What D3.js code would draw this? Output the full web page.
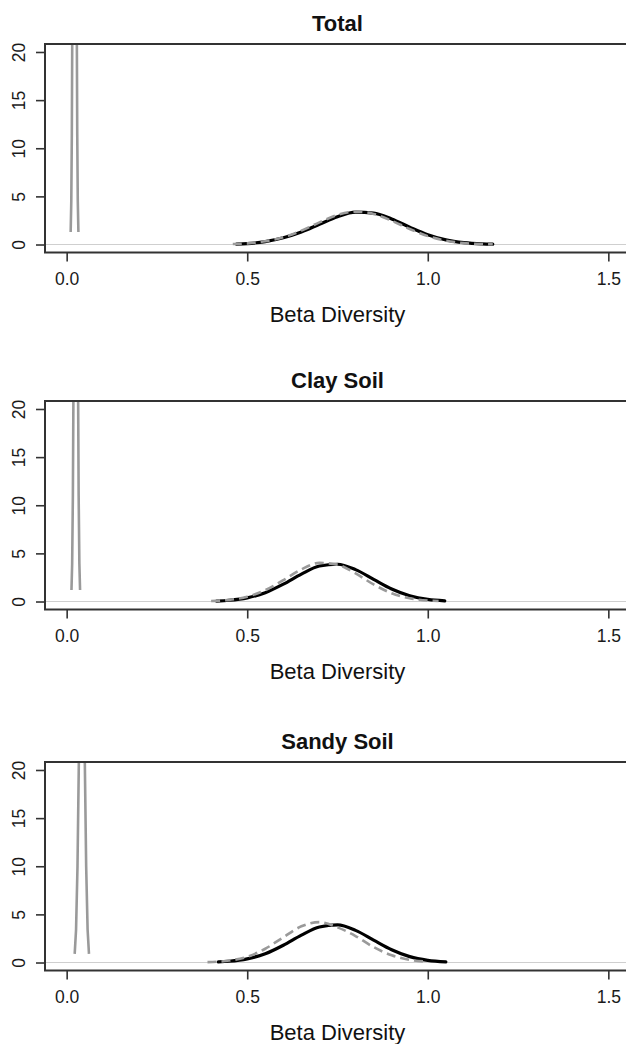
<!DOCTYPE html>
<html>
<head>
<meta charset="utf-8">
<script src="https://cdn.jsdelivr.net/npm/d3@7"></script>
<style>
  html, body { margin: 0; padding: 0; background: #fff; }
  svg { display: block; }
</style>
</head>
<body>
<div id="chart"></div>
<script>
// ---------------- DATA ----------------
const panelTitles = ["Total", "Clay Soil", "Sandy Soil"];
const xTicks = [0, 0.5, 1.0, 1.5];
const xTickLabels = ["0.0", "0.5", "1.0", "1.5"];
const yTicks = [0, 5, 10, 15, 20];
const yTickLabels = ["0", "5", "10", "15", "20"];
const xAxisTitle = "Beta Diversity";

// Narrow grey (null) densities near zero — peaks run off the top of the plot
const totalSpike = [[0.0111,1.3],[0.0128,4.5],[0.0143,11.4],[0.0158,24.6],[0.0188,68.6],[0.0218,96.6],[0.0248,68.6],[0.0278,24.6],[0.0293,11.4],[0.0308,4.5],[0.0325,1.3]];
const claySpike  = [[0.0133,1.2],[0.0152,3.9],[0.0172,11.0],[0.0192,24.9],[0.0222,54.5],[0.0252,70.8],[0.0282,54.5],[0.0312,24.9],[0.0332,11.0],[0.0352,3.9],[0.0371,1.2]];
const sandySpike = [[0.0222,0.9],[0.026,3.4],[0.030,10.0],[0.034,21.6],[0.038,34.3],[0.042,40.0],[0.046,34.3],[0.050,21.6],[0.054,10.0],[0.058,3.4],[0.0618,0.9]];

// Observed densities (black solid)
const totalObserved = [[0.47,0.05],[0.50,0.10],[0.55,0.30],[0.60,0.70],[0.65,1.30],[0.70,2.10],[0.75,2.89],[0.80,3.36],[0.85,3.26],[0.90,2.65],[0.95,1.80],[1.00,1.02],[1.05,0.48],[1.10,0.19],[1.15,0.06],[1.18,0.03]];
const clayObserved = [[0.415,0.05],[0.45,0.13],[0.50,0.38],[0.55,0.92],[0.60,1.80],[0.65,2.85],[0.70,3.69],[0.75,3.87],[0.80,3.31],[0.85,2.30],[0.90,1.30],[0.95,0.60],[1.00,0.22],[1.047,0.07]];
const sandyObserved = [[0.42,0.06],[0.45,0.13],[0.50,0.38],[0.55,0.91],[0.60,1.79],[0.65,2.85],[0.70,3.69],[0.75,3.90],[0.80,3.34],[0.85,2.33],[0.90,1.33],[0.95,0.61],[1.00,0.23],[1.05,0.07]];

// Expected / model densities (grey dashed)
const totalModel = [[0.46,0.05],[0.50,0.12],[0.55,0.33],[0.60,0.76],[0.65,1.44],[0.70,2.30],[0.75,3.07],[0.80,3.42],[0.85,3.18],[0.90,2.47],[0.95,1.61],[1.00,0.87],[1.05,0.40],[1.10,0.15],[1.15,0.05],[1.18,0.02]];
const clayModel = [[0.40,0.05],[0.45,0.17],[0.50,0.50],[0.55,1.18],[0.60,2.22],[0.65,3.34],[0.70,4.01],[0.75,3.83],[0.80,2.92],[0.85,1.77],[0.90,0.86],[0.95,0.33],[1.00,0.10],[1.03,0.05]];
const sandyModel = [[0.39,0.04],[0.45,0.20],[0.50,0.60],[0.55,1.43],[0.60,2.62],[0.65,3.76],[0.70,4.20],[0.75,3.65],[0.80,2.75],[0.85,1.60],[0.90,0.75],[0.95,0.28],[1.00,0.08]];

const spikes = [totalSpike, claySpike, sandySpike];
const observed = [totalObserved, clayObserved, sandyObserved];
const models = [totalModel, clayModel, sandyModel];

// ---------------- LAYOUT ----------------
const W = 626, H = 1044;
const panelTops = [44, 401, 762];
const boxLeft = 45, boxRight = 630, boxH = 208.5;
const xDomain = [-0.06, 1.56];
const yDomain = [-0.83, 20.83];
const FONT = "'Liberation Sans', Arial, Helvetica, sans-serif";

const svg = d3.select("#chart").append("svg")
  .attr("width", W).attr("height", H)
  .attr("viewBox", `0 0 ${W} ${H}`);
svg.append("rect").attr("width", W).attr("height", H).attr("fill", "#fff");

const x = d3.scaleLinear().domain(xDomain).range([boxLeft, boxRight]);

panelTitles.forEach((title, i) => {
  const top = panelTops[i];
  const bottom = top + boxH;
  const y = d3.scaleLinear().domain(yDomain).range([bottom, top]);
  const g = svg.append("g");

  const clipId = "clip" + i;
  svg.append("clipPath").attr("id", clipId)
    .append("rect").attr("x", boxLeft).attr("y", top)
    .attr("width", boxRight - boxLeft).attr("height", boxH);

  // zero reference line
  g.append("line")
    .attr("x1", boxLeft).attr("x2", boxRight)
    .attr("y1", y(0)).attr("y2", y(0))
    .attr("stroke", "#cfcfcf").attr("stroke-width", 1.2);

  const line = d3.line().x(d => x(d[0])).y(d => y(d[1]));
  const smooth = d3.line().x(d => x(d[0])).y(d => y(d[1])).curve(d3.curveMonotoneX);

  const plot = g.append("g").attr("clip-path", `url(#${clipId})`);
  plot.append("path").datum(spikes[i]).attr("d", line)
    .attr("fill", "none").attr("stroke", "#9a9a9a").attr("stroke-width", 2.6);
  plot.append("path").datum(observed[i]).attr("d", smooth)
    .attr("fill", "none").attr("stroke", "#000").attr("stroke-width", 3.2)
    .attr("stroke-linecap", "round");
  plot.append("path").datum(models[i]).attr("d", smooth)
    .attr("fill", "none").attr("stroke", "#9a9a9a").attr("stroke-width", 2.6)
    .attr("stroke-dasharray", "9,5");

  // box
  g.append("rect").attr("x", boxLeft).attr("y", top)
    .attr("width", boxRight - boxLeft).attr("height", boxH)
    .attr("fill", "none").attr("stroke", "#333").attr("stroke-width", 2);

  // x axis
  const xAxis = d3.axisBottom(x).tickValues(xTicks)
    .tickFormat((d, k) => xTickLabels[k]).tickSize(9).tickPadding(7);
  const xg = g.append("g").attr("transform", `translate(0,${bottom})`).call(xAxis);
  xg.select(".domain").remove();
  xg.selectAll(".tick line").attr("stroke", "#333").attr("stroke-width", 1.6);
  xg.selectAll(".tick text").attr("font-family", FONT).attr("font-size", 17.5)
    .attr("fill", "#1a1a1a").attr("dy", null).attr("y", 32);

  // y axis (labels rotated, R style)
  const yAxis = d3.axisLeft(y).tickValues(yTicks)
    .tickFormat((d, k) => yTickLabels[k]).tickSize(9);
  const yg = g.append("g").attr("transform", `translate(${boxLeft},0)`).call(yAxis);
  yg.select(".domain").remove();
  yg.selectAll(".tick line").attr("stroke", "#333").attr("stroke-width", 1.6);
  yg.selectAll(".tick text")
    .attr("font-family", FONT).attr("font-size", 17.5).attr("fill", "#1a1a1a")
    .attr("x", null).attr("dy", null)
    .attr("text-anchor", "middle")
    .attr("transform", "translate(-20,0) rotate(-90)");

  // x axis title
  g.append("text").attr("x", (boxLeft + boxRight) / 2).attr("y", bottom + 69)
    .attr("text-anchor", "middle").attr("font-family", FONT).attr("font-size", 22)
    .attr("fill", "#111").text(xAxisTitle);

  // panel title
  g.append("text").attr("x", (boxLeft + boxRight) / 2).attr("y", top - 13)
    .attr("text-anchor", "middle").attr("font-family", FONT).attr("font-size", 22)
    .attr("font-weight", "bold").attr("fill", "#111").text(title);
});
</script>
</body>
</html>
